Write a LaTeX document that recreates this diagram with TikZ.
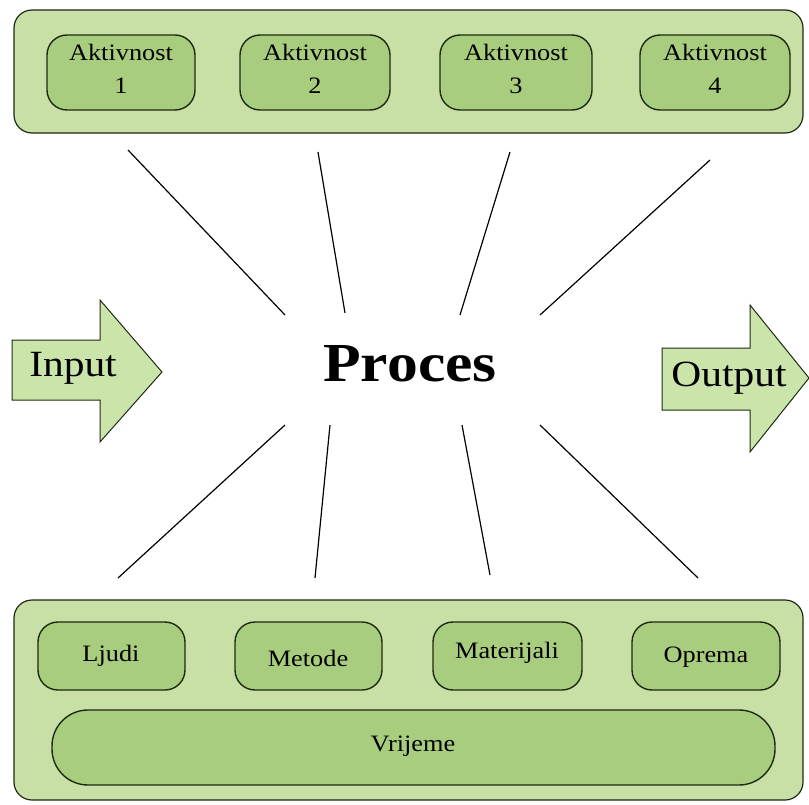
\documentclass[tikz,border=0pt]{standalone}
\usepackage{fontspec}
\setmainfont{Liberation Serif}
\newfontfamily\widefont[FakeStretch=1.12]{Liberation Serif}
\definecolor{panelg}{HTML}{C8E0A6}
\definecolor{boxg}{HTML}{A9CD7E}
\definecolor{arrg}{HTML}{CBE4AA}
\definecolor{edge}{HTML}{1E2A14}
\begin{document}
\begin{tikzpicture}[x=1pt,y=-1pt,
  panel/.style={draw=edge, line width=1.2pt, fill=panelg, rounded corners=18pt},
  itembox/.style={draw=edge, line width=1.4pt, fill=boxg, rounded corners=20pt},
  lbl/.style={font=\widefont\fontsize{23.5}{33}\selectfont, align=center, text=black},
  big/.style={font=\widefont\fontsize{37}{40}\selectfont, text=black},
  ray/.style={draw=black, line width=1.2pt},
  bigarrow/.style={draw=edge, line width=1pt, fill=arrg}]
\useasboundingbox (0,0) rectangle (809,805);
% top panel
\draw[panel] (14,10) rectangle (803,133);
\draw[itembox] (47,35) rectangle (195,110);
\draw[itembox] (240,35) rectangle (390,110);
\draw[itembox] (440,35) rectangle (592,110);
\draw[itembox] (640,35) rectangle (790,110);
\node[lbl] (a1) at (121,69) {Aktivnost\\1};
\node[lbl] (a2) at (315,69) {Aktivnost\\2};
\node[lbl] (a3) at (516,69) {Aktivnost\\3};
\node[lbl] (a4) at (715,69) {Aktivnost\\4};
% bottom panel
\draw[panel] (14,600) rectangle (803,800);
\draw[itembox] (38,622) rectangle (185,690);
\draw[itembox] (235,622) rectangle (382,690);
\draw[itembox] (433,622) rectangle (582,690);
\draw[itembox] (632,622) rectangle (780,690);
\draw[itembox, rounded corners=36pt] (52,710) rectangle (775,785);
\node[lbl] (ljudi) at (111,656) {Ljudi};
\node[lbl] (metode) at (308,658) {Metode};
\node[lbl] (mat) at (507,653) {Materijali};
\node[lbl] (oprema) at (706,657) {Oprema};
\node[lbl] (vrijeme) at (413,746) {Vrijeme};
% process
\node[font=\widefont\fontsize{55}{60}\selectfont\bfseries] (proces) at (410,364) {Proces};
% rays
\coordinate (t1a) at (128,150); \coordinate (t1b) at (285,315);
\coordinate (t2a) at (318,152); \coordinate (t2b) at (345,313);
\coordinate (t3a) at (510,152); \coordinate (t3b) at (460,315);
\coordinate (t4a) at (710,160); \coordinate (t4b) at (540,315);
\coordinate (b1a) at (285,425); \coordinate (b1b) at (118,578);
\coordinate (b2a) at (330,425); \coordinate (b2b) at (315,578);
\coordinate (b3a) at (462,425); \coordinate (b3b) at (490,575);
\coordinate (b4a) at (540,425); \coordinate (b4b) at (698,578);
\foreach \p in {t1,t2,t3,t4,b1,b2,b3,b4} \draw[ray] (\p a) -- (\p b);
% input arrow
\draw[bigarrow] (12,340) -- (100,340) -- (100,300) -- (162,372) -- (100,442) -- (100,400) -- (12,400) -- cycle;
\node[big] (input) at (73,368) {Input};
% output arrow
\draw[bigarrow] (662,348) -- (750,348) -- (750,305) -- (809,378) -- (750,452) -- (750,410) -- (662,410) -- cycle;
\node[big] (output) at (729,378) {Output};
\end{tikzpicture}
\end{document}
